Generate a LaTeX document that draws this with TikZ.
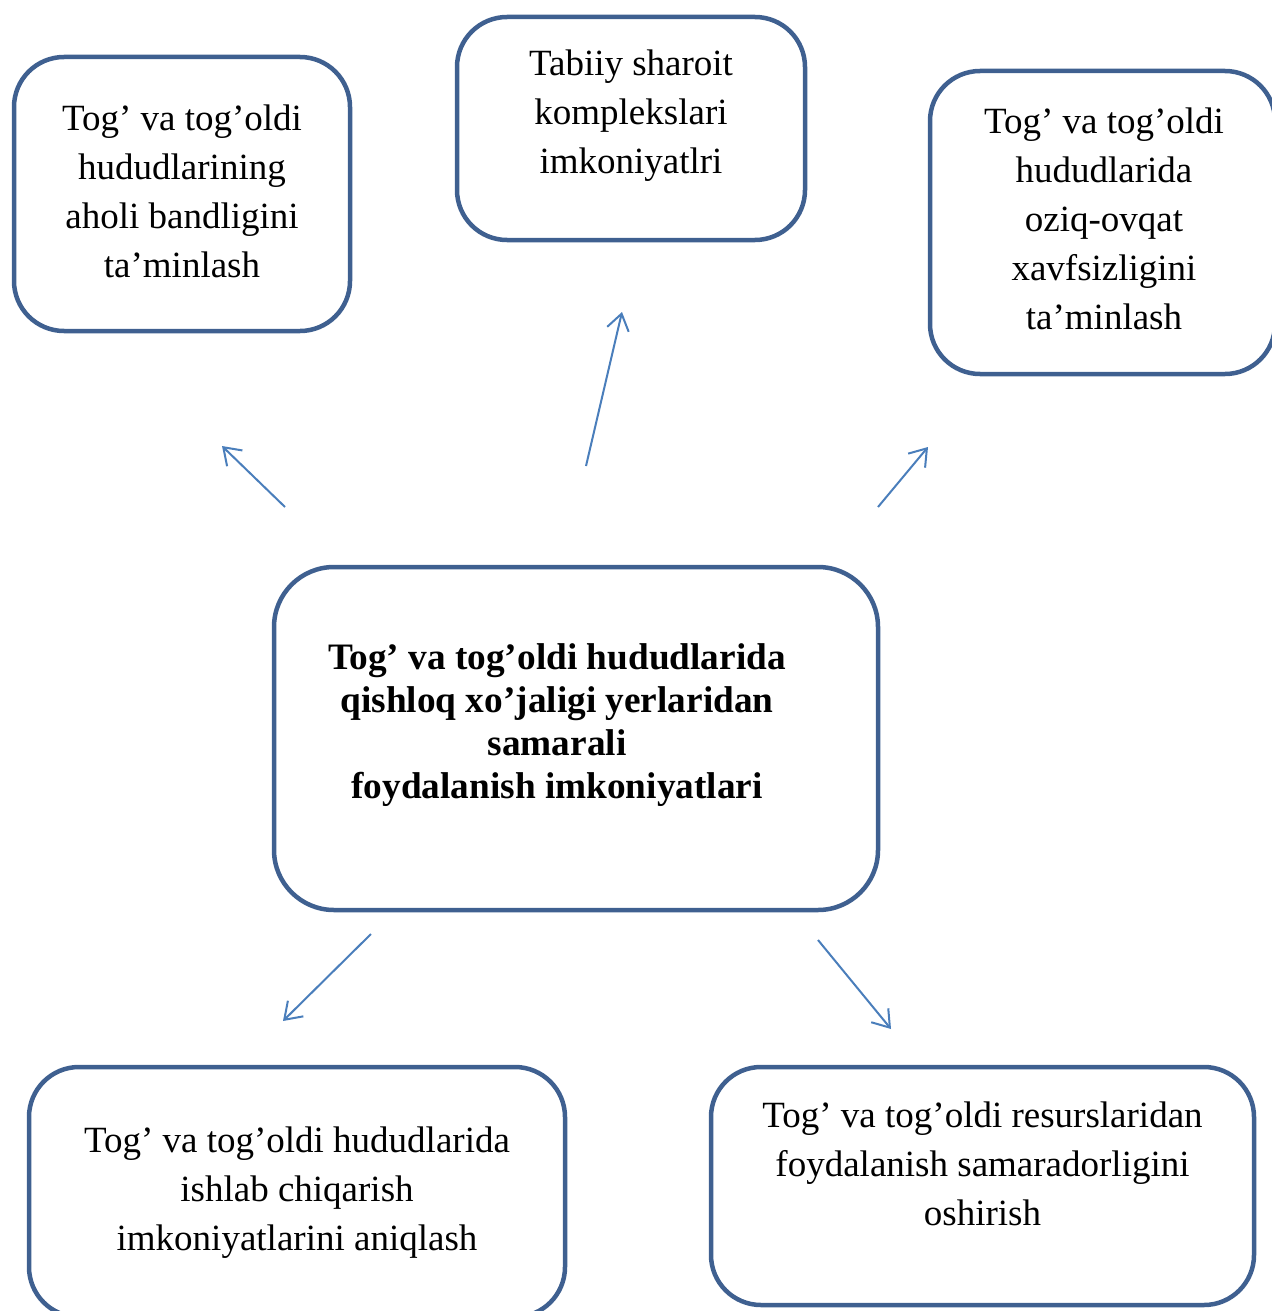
\documentclass[tikz,border=0pt]{standalone}
\usepackage{fontspec}
\setmainfont{Liberation Serif}
\usetikzlibrary{arrows.meta}
\definecolor{boxline}{HTML}{3F6090}
\definecolor{arrowline}{HTML}{4A7EBB}
\begin{document}
\begin{tikzpicture}[x=1pt,y=-1pt,
	box/.style={draw=boxline,line width=4.5pt,rounded corners=50pt,inner sep=0pt},
	txt/.style={align=center,font=\fontsize{37}{49}\selectfont},
	maintxt/.style={align=center,font=\fontsize{37.3}{43}\selectfont\bfseries},
	arr/.style={draw=arrowline,line width=2pt,-{Straight Barb[length=16pt,width=22pt]}}]
	\useasboundingbox (0,0) rectangle (1271,1311);
	% boxes
	\node[box,minimum width=336pt,minimum height=274pt] (aholi) at (182,194) {};
	\node[box,minimum width=348pt,minimum height=223pt] (tabiiy) at (631,128.5) {};
	\node[box,minimum width=345pt,minimum height=303pt] (oziq) at (1102.5,222.5) {};
	\node[box,rounded corners=60pt,minimum width=604pt,minimum height=343pt] (markaz) at (576,738.5) {};
	\node[box,minimum width=536pt,minimum height=250pt] (ishlab) at (297,1192) {};
	\node[box,minimum width=543pt,minimum height=238pt] (resurs) at (982.5,1186) {};
	% texts
	\node[txt] (aholitxt) at (182,191.5) {Tog’ va tog’oldi\\hududlarining\\aholi bandligini\\ta’minlash};
	\node[txt] (tabiiytxt) at (631,116) {Tabiiy sharoit\\komplekslari\\imkoniyatlri};
	\node[txt] (oziqtxt) at (1104,218.5) {Tog’ va tog’oldi\\hududlarida\\oziq-ovqat\\xavfsizligini\\ta’minlash};
	\node[maintxt] (markaztxt) at (557,725) {Tog’ va tog’oldi hududlarida\\qishloq xo’jaligi yerlaridan\\samarali\\foydalanish imkoniyatlari};
	\node[txt] (ishlabtxt) at (297,1193) {Tog’ va tog’oldi hududlarida\\ishlab chiqarish\\imkoniyatlarini aniqlash};
	\node[txt] (resurstxt) at (982.5,1164) {Tog’ va tog’oldi resurslaridan\\foydalanish samaradorligini\\oshirish};
	% arrow ends
	\coordinate (a1) at (285,507); \coordinate (b1) at (222,446);
	\coordinate (a2) at (586,466); \coordinate (b2) at (622,312);
	\coordinate (a3) at (878,507); \coordinate (b3) at (928,447);
	\coordinate (a4) at (371,934); \coordinate (b4) at (283,1021);
	\coordinate (a5) at (818,940); \coordinate (b5) at (891,1029);
	\draw[arr] (a1) -- (b1);
	\draw[arr] (a2) -- (b2);
	\draw[arr] (a3) -- (b3);
	\draw[arr] (a4) -- (b4);
	\draw[arr] (a5) -- (b5);
\end{tikzpicture}
\end{document}
